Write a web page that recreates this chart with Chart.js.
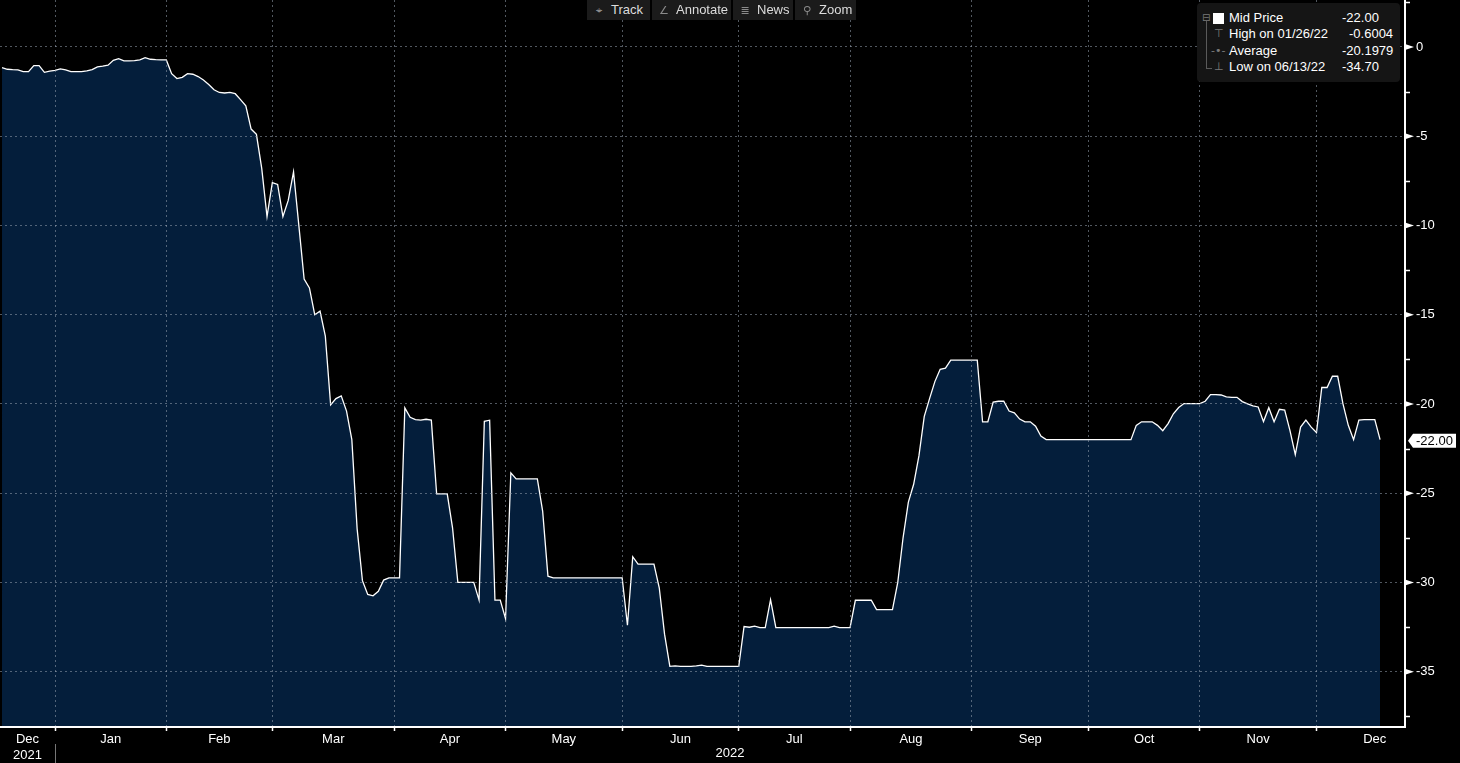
<!DOCTYPE html>
<html>
<head>
<meta charset="utf-8">
<title>Mid Price</title>
<script src="https://cdn.jsdelivr.net/npm/chart.js"></script>
<style>
  html, body { margin: 0; padding: 0; background: #000; overflow: hidden; }
  #wrap { position: relative; width: 1460px; height: 763px; font-family: "Liberation Sans", Arial, sans-serif; }
  #chart { position: absolute; left: 0; top: 0; }
  .btn { position: absolute; top: 0; height: 20px; line-height: 20px; background: #1b1b1b; color: #dcdcdc; font-size: 13px; white-space: nowrap; }
  .btn i { font-style: normal; color: #8a8a8a; font-family: "DejaVu Sans", sans-serif; font-size: 11px; display: inline-block; width: 24px; text-align: center; }
  #legend { position: absolute; left: 1197px; top: 3px; width: 203px; height: 79px; background: #151515; border-radius: 4px; color: #fff; font-size: 13px; }
  #legend span { position: absolute; line-height: 16px; white-space: nowrap; }
  #legend .ico { color: #7a7a7a; font-family: "DejaVu Sans", sans-serif; font-size: 11px; }
  #tree { position: absolute; left: 9px; top: 18px; width: 5px; height: 47px; border-left: 1px solid #5a5a5a; border-bottom: 1px solid #5a5a5a; }
</style>
</head>
<body>
<div id="wrap">
  <canvas id="chart" width="1460" height="763"></canvas>

  <div class="btn" style="left:587px;width:63px"><i>&#8982;</i>Track</div>
  <div class="btn" style="left:652px;width:79px"><i>&#8736;</i>Annotate</div>
  <div class="btn" style="left:733px;width:60px"><i>&#8803;</i>News</div>
  <div class="btn" style="left:795px;width:61px"><i>&#9906;</i>Zoom</div>

  <div id="legend"></div>
</div>

<script>
/* ================= DATA ================= */
// one value per weekday, Dec 2021 -> Dec 2022
const dec2021 = [-1.16, -1.25, -1.27, -1.28, -1.38, -1.38, -1.05, -1.05, -1.42, -1.36];
const jan2022 = [-1.31, -1.23, -1.28, -1.38, -1.38, -1.38, -1.34, -1.27, -1.12, -1.08, -1.02,
  -0.75, -0.66, -0.78, -0.78, -0.77, -0.72, -0.6004, -0.69, -0.71, -0.72];
const feb2022 = [-0.73, -1.5, -1.77, -1.7, -1.5, -1.53, -1.66, -1.85, -2.1, -2.4, -2.55,
  -2.58, -2.55, -2.62, -2.95, -3.3, -4.6, -4.9, -6.8, -9.5];
const mar2022 = [-7.6, -7.7, -9.5, -8.6, -7.0, -10.0, -13.0, -13.5, -15.0, -14.8, -16.2, -20.05,
  -19.7, -19.55, -20.4, -22.0, -27.0, -29.9, -30.67, -30.75, -30.5, -29.87, -29.74];
const apr2022 = [-29.74, -29.74, -20.22, -20.75, -20.88, -20.91, -20.86, -20.91, -25.04, -25.04,
  -25.04, -26.94, -30.0, -30.0, -30.0, -30.0, -30.99, -20.97, -20.91, -30.99, -30.99];
const may2022 = [-32.03, -23.86, -24.2, -24.2, -24.2, -24.2, -24.2, -26.0, -29.65, -29.74, -29.74,
  -29.74, -29.74, -29.74, -29.74, -29.74, -29.74, -29.74, -29.74, -29.74, -29.74, -29.74];
const jun2022 = [-29.74, -32.4, -28.56, -28.97, -28.97, -28.97, -28.97, -30.3, -32.9, -34.7, -34.68,
  -34.7, -34.7, -34.7, -34.68, -34.63, -34.7, -34.7, -34.7, -34.7, -34.7, -34.7];
const jul2022 = [-34.7, -32.47, -32.51, -32.45, -32.53, -32.53, -30.97, -32.53, -32.53, -32.53, -32.53,
  -32.53, -32.53, -32.53, -32.53, -32.53, -32.53, -32.53, -32.45, -32.53, -32.53];
const aug2022 = [-32.53, -31.0, -31.0, -31.0, -31.0, -31.52, -31.52, -31.52, -31.52, -30.0, -27.5,
  -25.5, -24.5, -22.9, -20.7, -19.7, -18.75, -18.06, -18.0, -17.55, -17.55, -17.55, -17.55];
const sep2022 = [-17.55, -17.55, -21.0, -21.0, -19.9, -19.85, -19.85, -20.4, -20.5, -20.85, -21.0,
  -21.0, -21.25, -21.8, -22.0, -22.0, -22.0, -22.0, -22.0, -22.0, -22.0, -22.0];
const oct2022 = [-22.0, -22.0, -22.0, -22.0, -22.0, -22.0, -22.0, -22.0, -22.0, -21.2, -21.0,
  -21.0, -21.0, -21.2, -21.5, -21.1, -20.55, -20.2, -19.98, -19.98, -19.98];
const nov2022 = [-19.98, -19.85, -19.48, -19.48, -19.5, -19.6, -19.63, -19.63, -19.87, -20.0, -20.11,
  -20.17, -20.99, -20.21, -21.0, -20.3, -20.34, -21.5, -22.84, -21.3, -20.9, -21.3];
const dec2022 = [-21.6, -19.08, -19.08, -18.45, -18.45, -20.0, -21.2, -22.0, -20.9, -20.88, -20.88,
  -20.88, -22.0];

const monthSeries = [dec2021, jan2022, feb2022, mar2022, apr2022, may2022, jun2022,
  jul2022, aug2022, sep2022, oct2022, nov2022, dec2022];
const monthLabels = ["Dec", "Jan", "Feb", "Mar", "Apr", "May", "Jun", "Jul", "Aug", "Sep", "Oct", "Nov", "Dec"];
const yearLabels = ["2021", "2022"];
const yTickValues = [0, -5, -10, -15, -20, -25, -30, -35];

const legendLabels = ["Mid Price", "High on 01/26/22", "Average", "Low on 06/13/22"];
const legendValues = ["-22.00", "-0.6004", "-20.1979", "-34.70"];

/* ================= CONFIG ================= */
const X_MIN = -0.38;
const X_MAX = 264.7;
const Y_MIN = -38.1;
const Y_MAX = 2.63;
const FILL = "#041e3b";
const GRID = "rgba(150,160,175,0.55)";
const FONT = { family: "'Liberation Sans', Arial, sans-serif", size: 13 };

/* ================= HELPERS ================= */
function weekdaysInMonth(year, month) {
  const d = new Date(year, month, 1);
  let n = 0;
  while (d.getMonth() === month) {
    const w = d.getDay();
    if (w > 0 && w < 6) n++;
    d.setDate(d.getDate() + 1);
  }
  return n;
}

function zeroPad(s) {
  s.paddingTop = 0;
  s.paddingBottom = 0;
  s.paddingLeft = 0;
  s.paddingRight = 0;
}

/* ================= DERIVED ================= */
const allValues = monthSeries.flat();
const points = allValues.map((v, i) => ({ x: i, y: v }));

const monthStarts = [];
let acc = 0;
monthSeries.forEach(m => { monthStarts.push(acc); acc += m.length; });

// label centres: first month only partly visible, last month centred on its full length
const labelCenters = monthSeries.map((m, i) => {
  if (i === 0) return (X_MIN + monthStarts[1]) / 2;
  if (i === monthSeries.length - 1) return monthStarts[i] + weekdaysInMonth(2022, 11) / 2;
  return monthStarts[i] + m.length / 2;
});
const tickTexts = monthLabels.map((l, i) => i === 0 ? [l, yearLabels[0]] : l);

/* ================= LEGEND ================= */
function buildLegend() {
  const box = document.getElementById("legend");
  const icons = ["", "&#8868;", "-&#8226;-", "&#8869;"];
  let html = '<div id="tree"></div>';
  html += '<span class="ico" style="left:5px;top:7px;font-size:10px">&#8863;</span>';
  html += '<span style="left:16px;top:10px;width:11px;height:11px;background:#fff"></span>';
  legendLabels.forEach((label, i) => {
    const top = 7 + i * 16.4;
    if (i > 0) html += `<span class="ico" style="left:${i === 2 ? 14 : 17}px;top:${top}px;background:#151515">${icons[i]}</span>`;
    html += `<span style="left:32px;top:${top}px">${label}</span>`;
    html += `<span style="left:${i === 1 ? 152 : 145}px;top:${top}px">${legendValues[i]}</span>`;
  });
  box.innerHTML = html;
}

/* ================= OVERLAY PLUGIN ================= */
const overlay = {
  id: "overlay",
  afterDraw(chart) {
    const { ctx, scales } = chart;
    const y = scales.y;
    const x = scales.x;
    const axisX = y.left;
    ctx.save();
    ctx.fillStyle = "#fff";
    ctx.strokeStyle = "#fff";

    // major tick arrows
    yTickValues.forEach(v => {
      const py = y.getPixelForValue(v);
      ctx.beginPath();
      ctx.moveTo(axisX, py - 3);
      ctx.lineTo(axisX + 9, py);
      ctx.lineTo(axisX, py + 3);
      ctx.closePath();
      ctx.fill();
    });

    // minor ticks at half steps
    ctx.lineWidth = 1.5;
    for (let v = 2.5; v > Y_MIN; v -= 5) {
      const py = Math.round(y.getPixelForValue(v)) + 0.5;
      ctx.beginPath();
      ctx.moveTo(axisX, py);
      ctx.lineTo(axisX + 5, py);
      ctx.stroke();
    }

    // last value tag
    const last = allValues[allValues.length - 1];
    const ty = y.getPixelForValue(last) + 1;
    ctx.beginPath();
    ctx.moveTo(axisX + 3, ty);
    ctx.lineTo(axisX + 8, ty - 7);
    ctx.lineTo(axisX + 51, ty - 7);
    ctx.lineTo(axisX + 51, ty + 7);
    ctx.lineTo(axisX + 8, ty + 7);
    ctx.closePath();
    ctx.fill();
    ctx.fillStyle = "#000";
    ctx.font = "13px 'Liberation Sans', Arial, sans-serif";
    ctx.textBaseline = "middle";
    ctx.textAlign = "left";
    ctx.fillText(last.toFixed(2), axisX + 11, ty + 1);

    // year row
    const sepX = x.getPixelForValue(monthStarts[1]);
    ctx.strokeStyle = "#777";
    ctx.lineWidth = 1;
    ctx.beginPath();
    ctx.moveTo(Math.round(sepX) + 0.5, 744);
    ctx.lineTo(Math.round(sepX) + 0.5, 763);
    ctx.stroke();
    ctx.fillStyle = "#fff";
    ctx.textAlign = "center";
    ctx.fillText(yearLabels[1], (sepX + x.right) / 2, 753);
    ctx.restore();
  }
};

/* ================= CHART ================= */
function drawChart() {
  new Chart(document.getElementById("chart"), {
    type: "line",
    data: {
      datasets: [{
        data: points,
        borderColor: "#fff",
        borderWidth: 1.3,
        backgroundColor: FILL,
        fill: "start",
        pointRadius: 0,
        tension: 0
      }]
    },
    options: {
      responsive: false,
      animation: false,
      events: [],
      layout: { padding: 0 },
      plugins: { legend: { display: false }, tooltip: { enabled: false } },
      scales: {
        x: {
          type: "linear",
          position: "bottom",
          min: X_MIN,
          max: X_MAX,
          weight: 0,
          afterBuildTicks: s => { s.ticks = monthStarts.slice(1).map(v => ({ value: v })); },
          afterFit: s => { s.height = 4; zeroPad(s); },
          ticks: { display: false },
          grid: { color: GRID, lineWidth: 1, z: 1, drawTicks: true, tickLength: 4, tickColor: "#fff", tickWidth: 1.5 },
          border: { display: true, color: "#fff", width: 2, dash: [2, 3], z: 1 }
        },
        months: {
          type: "linear",
          position: "bottom",
          min: X_MIN,
          max: X_MAX,
          weight: 1,
          afterBuildTicks: s => { s.ticks = labelCenters.map(v => ({ value: v })); },
          afterFit: s => { s.height = 32; zeroPad(s); },
          ticks: {
            autoSkip: false,
            maxRotation: 0,
            color: "#fff",
            font: FONT,
            padding: 1,
            callback: (v, i) => tickTexts[i]
          },
          grid: { display: false, drawTicks: false },
          border: { display: false }
        },
        y: {
          type: "linear",
          position: "right",
          min: Y_MIN,
          max: Y_MAX,
          afterBuildTicks: s => { s.ticks = yTickValues.map(v => ({ value: v })); },
          afterFit: s => { s.width = 55; zeroPad(s); },
          ticks: { color: "#fff", font: FONT, padding: 11, callback: v => String(v) },
          grid: { color: GRID, lineWidth: 1, z: 1, drawTicks: false },
          border: { display: true, color: "#fff", width: 2, dash: [2, 3], z: 1 }
        }
      }
    },
    plugins: [overlay]
  });
}

/* ================= BOOT ================= */
buildLegend();
drawChart();
</script>
</body>
</html>
